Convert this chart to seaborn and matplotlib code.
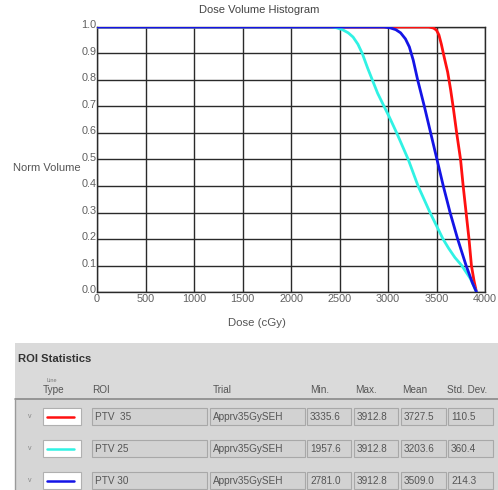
import numpy as np
import pandas as pd
import matplotlib
matplotlib.use("Agg")
import matplotlib.pyplot as plt
from matplotlib.patches import Rectangle
import matplotlib.transforms as mtransforms
import seaborn as sns

# ---------------- data ----------------
roi_names = ["PTV  35", "PTV 25", "PTV 30"]
roi_colors = ["#ff1010", "#30f2e4", "#1414e6"]

dose_ptv35 = [0, 3420, 3470, 3500, 3525, 3550, 3580, 3615, 3645, 3675, 3708, 3730, 3748, 3775, 3805, 3835, 3860, 3888, 3912]
vol_ptv35 = [1.0, 1.0, 0.996, 0.988, 0.97, 0.935, 0.885, 0.83, 0.765, 0.69, 0.60, 0.545, 0.50, 0.40, 0.30, 0.20, 0.10, 0.04, 0.0]

dose_ptv25 = [0, 2420, 2470, 2530, 2590, 2640, 2690, 2735, 2790, 2893, 3014, 3090, 3209, 3310, 3433, 3567, 3625, 3690, 3760, 3850, 3912]
vol_ptv25 = [1.0, 1.0, 0.997, 0.99, 0.978, 0.962, 0.935, 0.9, 0.845, 0.75, 0.66, 0.60, 0.50, 0.40, 0.30, 0.20, 0.165, 0.13, 0.10, 0.05, 0.0]

dose_ptv30 = [0, 2960, 3020, 3080, 3130, 3180, 3220, 3260, 3306, 3375, 3440, 3505, 3570, 3640, 3718, 3805, 3870, 3912]
vol_ptv30 = [1.0, 1.0, 0.997, 0.99, 0.978, 0.955, 0.925, 0.875, 0.80, 0.70, 0.60, 0.50, 0.40, 0.30, 0.20, 0.10, 0.035, 0.0]

x_ticks = [0, 500, 1000, 1500, 2000, 2500, 3000, 3500, 4000]
y_ticks = [0.0, 0.1, 0.2, 0.3, 0.4, 0.5, 0.6, 0.7, 0.8, 0.9, 1.0]
y_tick_labels = ["0.0", "0.1", "0.2", "0.3", "0.4", "0.5", "0.6", "0.7", "0.8", "0.9", "1.0"]

stat_trial = ["Apprv35GySEH", "Apprv35GySEH", "Apprv35GySEH"]
stat_min = ["3335.6", "1957.6", "2781.0"]
stat_max = ["3912.8", "3912.8", "3912.8"]
stat_mean = ["3727.5", "3203.6", "3509.0"]
stat_std = ["110.5", "360.4", "214.3"]

# ---------------- figure ----------------
sns.set_style("white")
plt.rcParams["font.family"] = ["Liberation Sans", "DejaVu Sans"]

fig = plt.figure(figsize=(4.98, 4.90), dpi=100)
W, H = 498.0, 490.0

def fx(px):
    return px / W

def fy(py):
    return 1 - py / H

ax = fig.add_axes([fx(97), fy(292), (485 - 97) / W, (292 - 27) / H])

frames = []
for name, d, v in [(roi_names[0], dose_ptv35, vol_ptv35),
                   (roi_names[1], dose_ptv25, vol_ptv25),
                   (roi_names[2], dose_ptv30, vol_ptv30)]:
    frames.append(pd.DataFrame({"dose": d, "volume": v, "roi": name}))
df = pd.concat(frames, ignore_index=True)

sns.lineplot(data=df, x="dose", y="volume", hue="roi", hue_order=roi_names,
             palette=dict(zip(roi_names, roi_colors)), sort=False, estimator=None,
             linewidth=2.0, legend=False, ax=ax, zorder=3)
for ln in ax.get_lines():
    ln.set_solid_joinstyle("round")

ax.set_xlim(0, 4000)
ax.set_ylim(0, 1.0)
ax.set_xticks(x_ticks)
ax.set_xticklabels([str(t) for t in x_ticks])
ax.set_yticks(y_ticks)
ax.set_yticklabels(y_tick_labels)
ax.grid(True, color="#2a2a2a", linewidth=1.0)
ax.set_axisbelow(True)
for s in ax.spines.values():
    s.set_color("#2a2a2a")
    s.set_linewidth(1.0)
ax.tick_params(axis="both", length=0, labelsize=7.8, labelcolor="#606060")
ax.tick_params(axis="x", pad=1.5)
ax.tick_params(axis="y", pad=0.3)
off = mtransforms.ScaledTranslation(0, 2.0 / 72, fig.dpi_scale_trans)
for lab in ax.get_yticklabels():
    lab.set_transform(lab.get_transform() + off)
ax.set_xlabel("")
ax.set_ylabel("")

fig.text(fx(259), fy(10), "Dose Volume Histogram", ha="center", va="center",
         fontsize=8, color="#444444")
fig.text(fx(13), fy(168), "Norm Volume", ha="left", va="center",
         fontsize=8, color="#555555")
fig.text(fx(257), fy(323), "Dose (cGy)", ha="center", va="center",
         fontsize=8.2, color="#555555")

# ---------------- ROI statistics panel ----------------
def rect(x0, y0, x1, y1, fc, ec="none", lw=0.8, z=1):
    r = Rectangle((fx(x0), fy(y1)), (x1 - x0) / W, (y1 - y0) / H,
                  transform=fig.transFigure, facecolor=fc, edgecolor=ec,
                  linewidth=lw, zorder=z)
    fig.add_artist(r)

rect(15, 343, 498, 490, "#d6d6d6")
rect(15, 343, 498, 398, "#dadada")
fig.add_artist(plt.Line2D([fx(15), fx(498)], [fy(399), fy(399)], transform=fig.transFigure,
                          color="#8a8a8a", linewidth=1.2, zorder=2))
fig.add_artist(plt.Line2D([fx(15), fx(15)], [fy(399), fy(490)], transform=fig.transFigure,
                          color="#9a9a9a", linewidth=1.0, zorder=2))

fig.text(fx(18), fy(359), "ROI Statistics", ha="left", va="center",
         fontsize=8.1, fontweight="bold", color="#333333")
fig.text(fx(46), fy(380), "Line", ha="left", va="center", fontsize=4, color="#777777")
headers = [("Type", 43), ("ROI", 92), ("Trial", 213), ("Min.", 310),
           ("Max.", 355), ("Mean", 402), ("Std. Dev.", 447)]
for t, x in headers:
    fig.text(fx(x), fy(390), t, ha="left", va="center", fontsize=7.2, color="#555555")

row_tops = [408, 440, 472]
boxes = [(92, 207), (210, 305), (307, 351), (354, 398), (401, 446), (448, 493)]
for i, top in enumerate(row_tops):
    bot = top + 17
    cy = top + 8.5
    fig.text(fx(30), fy(cy), "v", ha="center", va="center", fontsize=5, color="#888888")
    rect(43, top, 81, bot, "#ffffff", "#b0b0b0", z=2)
    fig.add_artist(plt.Line2D([fx(47), fx(74)], [fy(cy), fy(cy)], transform=fig.transFigure,
                              color=roi_colors[i], linewidth=1.8, zorder=3))
    vals = [roi_names[i], stat_trial[i], stat_min[i], stat_max[i], stat_mean[i], stat_std[i]]
    for (x0, x1), v in zip(boxes, vals):
        rect(x0, top, x1, bot, "#d2d2d2", "#a8a8a8", z=2)
        fig.text(fx(x0 + 3), fy(cy), v, ha="left", va="center", fontsize=7.2,
                 color="#555555", zorder=4)

fig.savefig("out.png", dpi=100)
